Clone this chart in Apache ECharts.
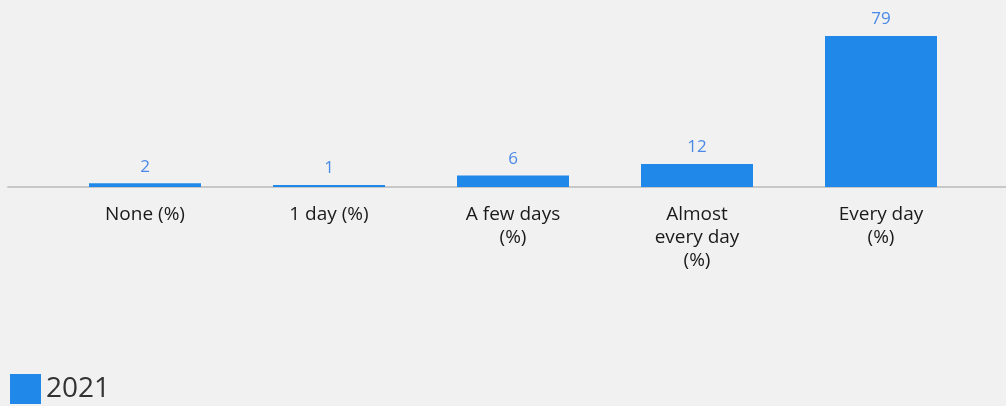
<!DOCTYPE html>
<html>
<head>
<meta charset="utf-8">
<script src="https://cdn.jsdelivr.net/npm/echarts@6/dist/echarts.min.js"></script>
<style>
    html, body { margin: 0; padding: 0; background: #f1f1f1; }
    #chart { width: 1006px; height: 406px; }
</style>
</head>
<body>
<div id="chart"></div>
<script>
    // 数据
    const categories = ['None (%)', '1 day (%)', 'A few days\n(%)', 'Almost\nevery day\n(%)', 'Every day\n(%)'];
    const seriesName = '2021';
    const values2021 = [2, 1, 6, 12, 79];

    const chart = echarts.init(document.getElementById('chart'));
    chart.setOption({
        backgroundColor: '#f1f1f1',
        animation: false,
        textStyle: { fontFamily: '"Open Sans", sans-serif' },
        legend: {
            left: 5,
            top: 369,
            icon: 'rect',
            itemWidth: 31,
            itemHeight: 30,
            itemGap: 9,
            textStyle: { fontSize: 28, color: '#333' },
            data: [seriesName]
        },
        grid: [
            { left: 53, right: 33, top: 34, bottom: 219 },
            // 仅用于画横贯全宽的基线
            { left: 8, right: 0, top: 34, bottom: 219 }
        ],
        xAxis: [
            {
                type: 'category',
                gridIndex: 0,
                data: categories,
                axisLine: { show: false },
                axisTick: { show: false },
                axisLabel: {
                    margin: 16,
                    fontSize: 19,
                    fontWeight: 500,
                    lineHeight: 23,
                    color: '#1a1a1a',
                    interval: 0
                }
            },
            {
                type: 'category',
                gridIndex: 1,
                data: [''],
                axisLine: { show: true, lineStyle: { color: '#c8c8c8', width: 2 } },
                axisTick: { show: false },
                axisLabel: { show: false }
            }
        ],
        yAxis: [
            { type: 'value', gridIndex: 0, min: 0, max: 80, show: false },
            { type: 'value', gridIndex: 1, min: 0, max: 80, show: false }
        ],
        series: [
            {
                name: seriesName,
                type: 'bar',
                xAxisIndex: 0,
                yAxisIndex: 0,
                data: values2021,
                barWidth: 112,
                itemStyle: { color: '#1f88e8' },
                z: 3,
                label: {
                    show: true,
                    position: 'top',
                    distance: 8,
                    fontSize: 17,
                    color: '#4a8ae8'
                }
            }
        ]
    });
</script>
</body>
</html>
